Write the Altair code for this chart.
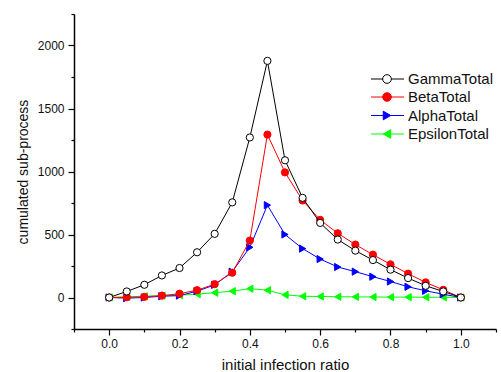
import altair as alt
import pandas as pd

# initial infection ratio (x) and cumulated sub-process counts per series
ratio = [0.0, 0.05, 0.1, 0.15, 0.2, 0.25, 0.3, 0.35, 0.4, 0.45, 0.5,
         0.55, 0.6, 0.65, 0.7, 0.75, 0.8, 0.85, 0.9, 0.95, 1.0]
gamma_total = [0, 48, 101, 175, 234, 359, 505, 755, 1270, 1878, 1089,
               791, 592, 460, 372, 297, 221, 154, 93, 48, 0]
beta_total = [0, 2, 5, 15, 30, 58, 106, 197, 452, 1293, 993,
              770, 616, 510, 420, 340, 263, 189, 120, 61, 0]
alpha_total = [0, -5, 0, 10, 15, 50, 100, 205, 398, 733, 500,
               388, 305, 242, 205, 165, 127, 85, 53, 26, 0]
epsilon_total = [0, 5, 10, 15, 18, 27, 38, 50, 70, 58, 21,
                 10, 8, 6, 5, 4, 3, 3, 2, 2, 0]

# name, values, color, shape, fill
series = [
    ("GammaTotal", gamma_total, "#000000", "circle", "#ffffff"),
    ("BetaTotal", beta_total, "#ff0000", "circle", "#ff0000"),
    ("AlphaTotal", alpha_total, "#0000ff", "triangle-right", "#0000ff"),
    ("EpsilonTotal", epsilon_total, "#00ff00", "triangle-left", "#00ff00"),
]

x_ticks = [-0.1, 0.0, 0.1, 0.2, 0.3, 0.4, 0.5, 0.6, 0.7, 0.8, 0.9, 1.0, 1.1]
y_ticks = list(range(-250, 2251, 250))

FONT = "Liberation Sans"

x_enc = alt.X(
    "ratio:Q",
    scale=alt.Scale(domain=[-0.1, 1.1], nice=False, zero=False),
    axis=alt.Axis(
        title="initial infection ratio",
        values=x_ticks,
        format=".1f",
        labelExpr="(abs(round(datum.value*10)) % 2 == 0 && datum.value >= 0 && datum.value <= 1) ? datum.label : ''",
        tickSize={"condition": {"test": "abs(round(datum.value*10)) % 2 == 0", "value": 6}, "value": 3},
        grid=False,
        domainColor="black",
        domainWidth=1.5,
        tickColor="black",
        tickWidth=1.2,
        labelFont=FONT,
        labelFontSize=12,
        labelColor="#111111",
        labelPadding=3,
        titleFont=FONT,
        titleFontSize=15,
        titleFontWeight="normal",
        titleColor="#111111",
        titlePadding=8,
        labelFlush=False,
        labelOverlap=False,
    ),
)

y_enc_kwargs = dict(
    scale=alt.Scale(domain=[-250, 2250], nice=False, zero=False),
    axis=alt.Axis(
        title="cumulated sub-process",
        values=y_ticks,
        format="d",
        labelExpr="(datum.value % 500 == 0 && datum.value >= 0 && datum.value <= 2000) ? datum.label : ''",
        tickSize={"condition": {"test": "datum.value % 500 == 0", "value": 6}, "value": 3},
        grid=False,
        domainColor="black",
        domainWidth=1.5,
        tickColor="black",
        tickWidth=1.2,
        labelFont=FONT,
        labelFontSize=12,
        labelColor="#111111",
        labelPadding=4,
        titleFont=FONT,
        titleFontSize=14,
        titleFontWeight="normal",
        titleColor="#111111",
        titlePadding=7,
        labelFlush=False,
        labelOverlap=False,
    ),
)

layers = []
# draw bottom-most series first so GammaTotal ends up on top
for name, values, color, shape, fill in reversed(series):
    df = pd.DataFrame({"ratio": ratio, "value": values})
    base = alt.Chart(df).encode(x=x_enc, y=alt.Y("value:Q", **y_enc_kwargs))
    line = base.mark_line(color=color, strokeWidth=1)
    pts = base.mark_point(shape=shape, filled=True, fill=fill, stroke=color,
                          strokeWidth=1, size=52, opacity=1)
    layers += [line, pts]

# legend: line sample with marker, then label
leg_x0, leg_x1, leg_sym, leg_txt = 297, 330, 313, 334
leg_y = [65, 83, 101.5, 120]
for (name, values, color, shape, fill), yy in zip(series, leg_y):
    ldf = pd.DataFrame({"label": [name]})
    lb = alt.Chart(ldf)
    layers.append(lb.mark_rule(color=color, strokeWidth=1).encode(
        x=alt.value(leg_x0), x2=alt.value(leg_x1), y=alt.value(yy)))
    layers.append(lb.mark_point(shape=shape, filled=True, fill=fill, stroke=color,
                                strokeWidth=1, size=75, opacity=1).encode(
        x=alt.value(leg_sym), y=alt.value(yy)))
    layers.append(lb.mark_text(align="left", baseline="middle", font=FONT,
                               fontSize=15, color="#111111").encode(
        x=alt.value(leg_txt), y=alt.value(yy), text="label:N"))

chart = alt.layer(*layers).properties(
    width=422,
    height=315,
    autosize=alt.AutoSizeParams(type="none"),
    padding={"left": 74, "top": 14, "right": 5, "bottom": 43},
    background="white",
).configure_view(stroke=None)

chart.save("out.html", embed_options={"renderer": "svg", "actions": False})
